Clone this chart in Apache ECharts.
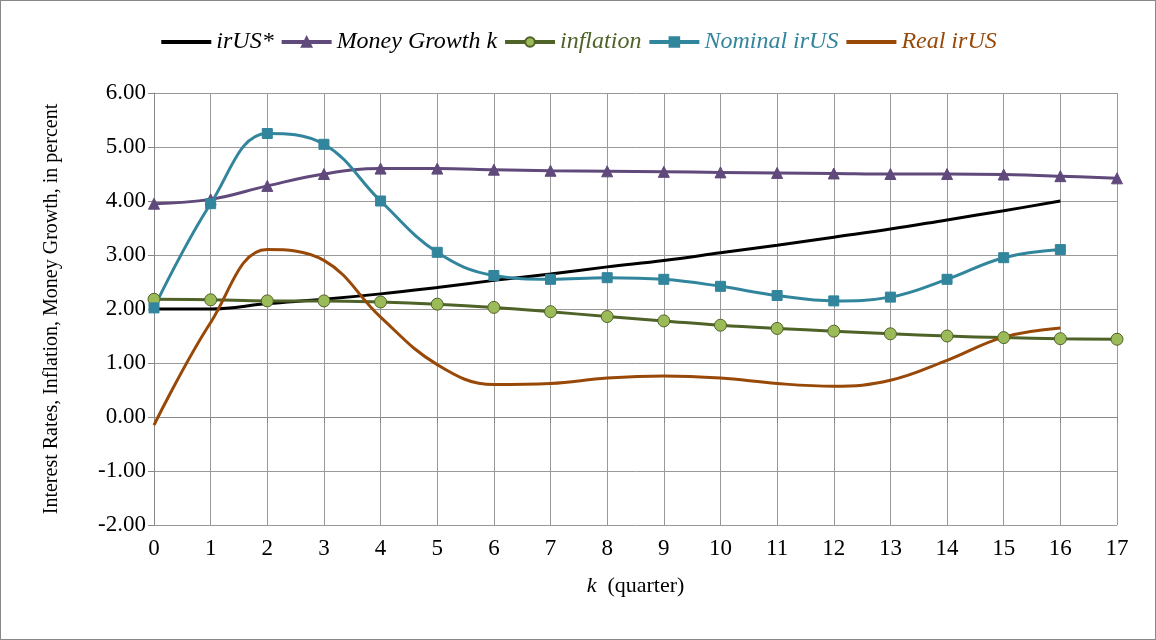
<!DOCTYPE html>
<html><head><meta charset="utf-8">
<script src="https://cdn.jsdelivr.net/npm/echarts@6/dist/echarts.min.js"></script>
<style>body{margin:0;background:#fff}#main{width:1156px;height:640px;box-sizing:border-box;border:1px solid #888}</style>
</head><body><div id="main"></div>
<script>
let quarters = ["0","1","2","3","4","5","6","7","8","9","10","11","12","13","14","15","16","17"]
let irUS = [2.00,2.00,2.10,2.18,2.28,2.40,2.53,2.65,2.78,2.90,3.04,3.18,3.33,3.48,3.65,3.82,4.00]
let moneyGrowth = [3.95,4.03,4.28,4.50,4.60,4.60,4.58,4.56,4.55,4.54,4.53,4.52,4.51,4.50,4.50,4.49,4.46,4.42]
let inflation = [2.18,2.17,2.15,2.15,2.13,2.09,2.03,1.95,1.86,1.78,1.70,1.64,1.59,1.54,1.50,1.47,1.45,1.44]
let nominal = [2.02,3.95,5.25,5.05,4.00,3.05,2.62,2.55,2.58,2.55,2.42,2.25,2.15,2.22,2.55,2.95,3.10]
let real = [-0.15,1.75,3.10,2.90,1.85,0.97,0.60,0.62,0.72,0.76,0.72,0.62,0.57,0.68,1.05,1.48,1.65]

let font = "Liberation Serif"
let myChart = echarts.init(document.getElementById('main'))
function line(name, data, color, symbol, size){
  return {name, type:'line', data, smooth:0.4, symbol, symbolSize:size, showSymbol:symbol!=='none',
    lineStyle:{color, width:3}, itemStyle:{color, borderColor: symbol==='circle' ? '#4f6228' : color, borderWidth:1}}
}
let option = {
  animation:false,
  textStyle:{fontFamily:font},
  legend:{top:24, left:'center', itemWidth:50, itemHeight:12, itemGap:6,
    lineStyle:{width:4},
    textStyle:{fontFamily:font, fontSize:24, fontStyle:'italic', color:'#000'},
    data:[
      {name:'irUS*', itemStyle:{opacity:0}},
      {name:'Money Growth k'},
      {name:'inflation', textStyle:{color:'#4f6228'}},
      {name:'Nominal irUS', textStyle:{color:'#31859c'}},
      {name:'Real irUS', itemStyle:{opacity:0}, textStyle:{color:'#984807'}}
    ]},
  grid:{left:153, right:38, top:92, bottom:114},
  xAxis:{type:'category', data:quarters, boundaryGap:false,
    name:'{i|k}  (quarter)', nameLocation:'middle', nameGap:50,
    nameTextStyle:{fontFamily:font, fontSize:22, color:'#000', rich:{i:{fontFamily:font, fontSize:22, fontStyle:'italic'}}},
    axisLine:{lineStyle:{color:'#888'}}, axisTick:{show:true, length:6, lineStyle:{color:'#888'}},
    axisLabel:{fontFamily:font, fontSize:23, color:'#000', margin:12},
    splitLine:{show:true, lineStyle:{color:'#999'}}},
  yAxis:{type:'value', min:-2, max:6, interval:1,
    name:'Interest Rates, Inflation, Money Growth, in percent', nameLocation:'middle', nameGap:92,
    nameTextStyle:{fontFamily:font, fontSize:20, color:'#000'},
    axisLine:{show:true, lineStyle:{color:'#888'}}, axisTick:{show:true, length:6, lineStyle:{color:'#888'}},
    axisLabel:{fontFamily:font, fontSize:23, color:'#000', formatter:v=>v.toFixed(2)},
    splitLine:{lineStyle:{color:'#999'}}},
  series:[
    line('irUS*', irUS, '#000000', 'none', 0),
    line('Money Growth k', moneyGrowth, '#604a7b', 'triangle', 11),
    line('inflation', inflation, '#4f6228', 'circle', 12),
    line('Nominal irUS', nominal, '#31859c', 'rect', 10),
    line('Real irUS', real, '#984807', 'none', 0)
  ]
}
option.series[2].itemStyle.color = '#9bbb59'
myChart.setOption(option)
</script></body></html>
